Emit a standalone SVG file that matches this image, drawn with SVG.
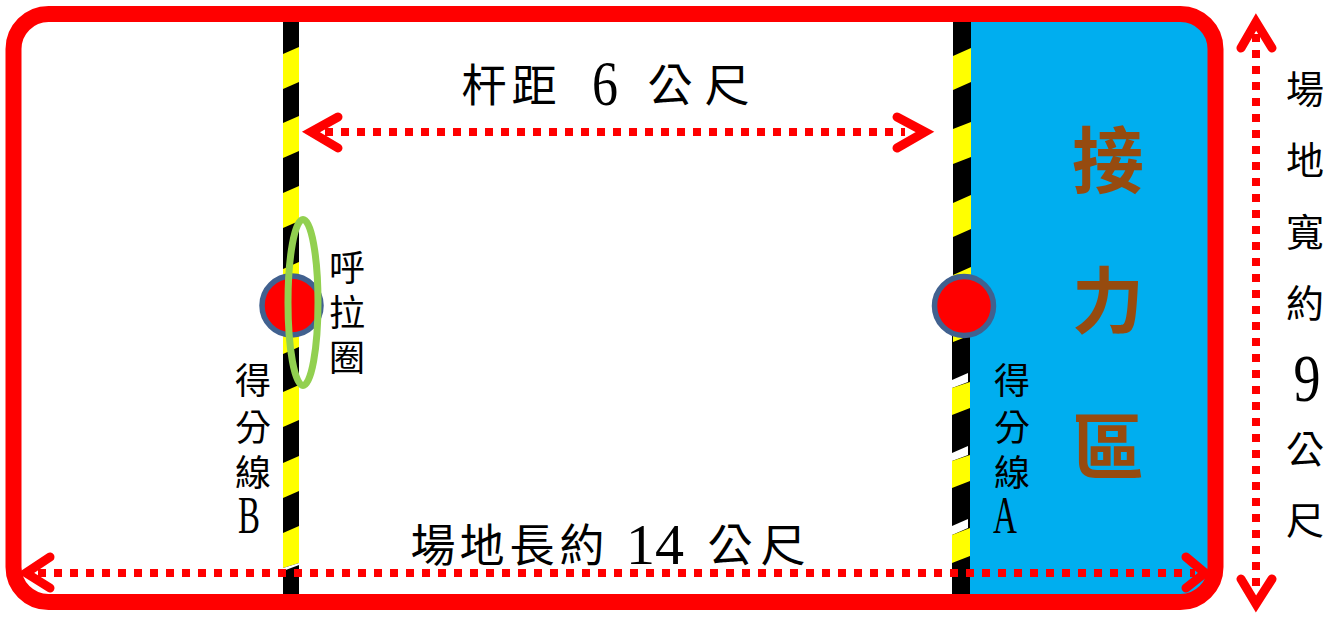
<svg xmlns="http://www.w3.org/2000/svg" width="1343" height="619" viewBox="0 0 1343 619">
<style>
text{font-family:"Noto Sans CJK TC","Noto Sans CJK SC",sans-serif;fill:#000;text-anchor:middle}
.d{font-family:"Liberation Serif",serif}
.s36{font-size:36px}.s40{font-size:38px}.s44{font-size:45px}
.z{font-size:72px;font-weight:700;fill:#964B0F}
.y{fill:#ff0;stroke:none}.k{fill:#000;stroke:none}.w{fill:#fff;stroke:none}
.dot{fill:none;stroke:#f00;stroke-width:8;stroke-dasharray:8 8}
.head{fill:none;stroke:#f00;stroke-width:9;stroke-linecap:round;stroke-linejoin:miter;stroke-miterlimit:10}
.ring{fill:#f00;stroke:#41618F;stroke-width:5.5}
</style>
<rect width="1343" height="619" fill="#fff"/>
<g id="relay-zone"><path d="M970 14H1180a35 35 0 0 1 35 35V567a35 35 0 0 1-35 35H970Z" fill="#00AEEF"/></g>
<g id="line-b">
<rect class="k" x="283" y="20" width="16" height="576"/>
<polygon class="y" points="283,54 299,47 299,82 283,89"/>
<polygon class="y" points="283,123 299,116 299,151 283,158"/>
<polygon class="y" points="283,193 299,186 299,221 283,228"/>
<polygon class="y" points="283,269 299,262 299,347 283,354"/>
<polygon class="y" points="283,392 299,385 299,420 283,427"/>
<polygon class="y" points="283,463 299,456 299,491 283,498"/>
<polygon class="y" points="283,533 299,526 299,563 283,568"/>
<polygon class="w" points="283,568 299,563 299,565 283,571"/>
</g>
<g id="line-a">
<rect class="k" x="953" y="20" width="18" height="300"/>
<rect class="k" x="952" y="320" width="18" height="276"/>
<polygon class="y" points="953,56 971,48 971,82 953,90"/>
<polygon class="y" points="953,129 971,122 971,157 953,164"/>
<polygon class="y" points="953,203 971,195 971,229 953,237"/>
<polygon class="y" points="953,275 971,267 971,335 953,342"/>
<polygon class="w" points="952,380 968,373 968,382 952,388"/>
<polygon class="y" points="952,388 970,382 970,408 952,415"/>
<polygon class="w" points="952,453 968,446 968,455 952,461"/>
<polygon class="y" points="952,461 970,455 970,481 952,488"/>
<polygon class="w" points="952,526 968,519 968,528 952,535"/>
<polygon class="y" points="952,535 970,528 970,556 952,563"/>
</g>
<g id="border"><rect x="13.5" y="14" width="1202" height="588" rx="35" ry="35" fill="none" stroke="#f00" stroke-width="16"/></g>
<g id="post-b"><circle class="ring" cx="291.5" cy="305.5" r="29.5"/></g>
<g id="post-a"><circle class="ring" cx="964" cy="306" r="29.5"/></g>
<g id="hoop"><ellipse cx="303" cy="302.5" rx="15" ry="83" fill="none" stroke="#92D050" stroke-width="7"/></g>
<g id="connectors">
<path class="dot" d="M325 132H905"/>
<path class="head" d="M338 117L311 132L338 148"/>
<path class="head" d="M897 117L925 132L897 148"/>
<path class="dot" d="M38 573H1195"/>
<path class="head" d="M50 557L26 573L50 588"/>
<path class="head" d="M1186 557L1205 573L1186 588"/>
<path class="dot" d="M1256 34V592"/>
<path class="head" d="M1241 48L1256 22L1272 48"/>
<path class="head" d="M1241 579L1256 604L1272 579"/>
</g>
<g id="label-pitch">
<text class="s44"><tspan x="484" y="102">杆</tspan><tspan x="534" y="102">距</tspan></text>
<text class="d" style="font-size:64px" x="605" y="105" textLength="26" lengthAdjust="spacingAndGlyphs">6</text>
<text class="s44"><tspan x="670" y="102">公</tspan><tspan x="727" y="102">尺</tspan></text>
</g>
<g id="label-length">
<text class="s44"><tspan x="433" y="562">場</tspan><tspan x="482" y="562">地</tspan><tspan x="532" y="562">長</tspan><tspan x="582" y="562">約</tspan></text>
<text class="d" style="font-size:56px" x="655" y="564" textLength="58" lengthAdjust="spacingAndGlyphs">14</text>
<text class="s44"><tspan x="730" y="562">公</tspan><tspan x="783" y="562">尺</tspan></text>
</g>
<g id="label-width">
<text class="s40"><tspan x="1305" y="103">場</tspan><tspan x="1305" y="174">地</tspan><tspan x="1305" y="246">寬</tspan><tspan x="1305" y="317">約</tspan></text>
<text class="d" style="font-size:68px" x="1307" y="401" textLength="27" lengthAdjust="spacingAndGlyphs">9</text>
<text class="s40"><tspan x="1305" y="463">公</tspan><tspan x="1305" y="534">尺</tspan></text>
</g>
<g id="label-hoop">
<text class="s36"><tspan x="347" y="281">呼</tspan><tspan x="347" y="326">拉</tspan><tspan x="347" y="371">圈</tspan></text>
</g>
<g id="label-line-b">
<text class="s36"><tspan x="253" y="394">得</tspan><tspan x="253" y="441">分</tspan><tspan x="253" y="486">線</tspan></text>
<text class="d" style="font-size:52px" x="249" y="533" textLength="22" lengthAdjust="spacingAndGlyphs">B</text>
</g>
<g id="label-line-a">
<text class="s36"><tspan x="1012" y="394">得</tspan><tspan x="1012" y="441">分</tspan><tspan x="1012" y="486">線</tspan></text>
<text class="d" style="font-size:52px" x="1005" y="533" textLength="24" lengthAdjust="spacingAndGlyphs">A</text>
</g>
<g id="label-zone">
<text class="z"><tspan x="1108" y="187">接</tspan><tspan x="1108" y="327">力</tspan><tspan x="1108" y="473">區</tspan></text>
</g>
</svg>
